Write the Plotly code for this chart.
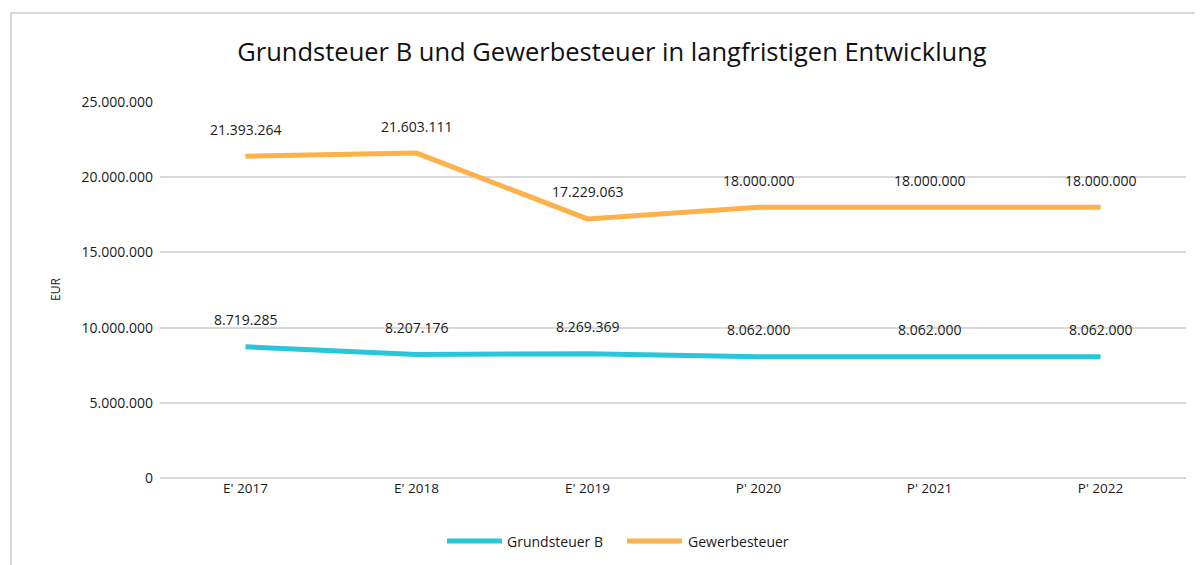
import plotly.graph_objects as go

categories = ["E' 2017", "E' 2018", "E' 2019", "P' 2020", "P' 2021", "P' 2022"]
grundsteuer_b = [8719285, 8207176, 8269369, 8062000, 8062000, 8062000]
gewerbesteuer = [21393264, 21603111, 17229063, 18000000, 18000000, 18000000]
y_ticks = [0, 5000000, 10000000, 15000000, 20000000, 25000000]
series_names = ["Grundsteuer B", "Gewerbesteuer"]

def fmt(v):
    return f"{v:,}".replace(",", ".")

FONT = "Open Sans, Liberation Sans, sans-serif"
cyan = "#29C5DB"
orange = "#FDB14A"
txt = "#1a1a1a"
colors = [cyan, orange]

fig = go.Figure()
for name, vals, col in zip(series_names, (grundsteuer_b, gewerbesteuer), colors):
    fig.add_trace(go.Scatter(x=categories, y=vals, mode="lines", name=name,
                             line=dict(color=col, width=5), showlegend=False))

OFF = 8  # page body margin
W, H = 1203 - OFF, 565 - OFF
# page-pixel targets
L, R, T, B = 160, 1186, 102, 478
ml, mr, mt, mb = L - OFF, (W + OFF) - R, T - OFF, (H + OFF) - B
pw, ph = W - ml - mr, H - mt - mb
def px_x(p): return (p - L) / pw
def px_y(p): return (B - p) / ph
def cx(p): return (p - OFF) / W
def cy(p): return 1 - (p - OFF) / H

annotations = []
for series in (grundsteuer_b, gewerbesteuer):
    for c, v in zip(categories, series):
        annotations.append(dict(x=c, y=v, text=fmt(v), showarrow=False, yshift=27,
                                font=dict(size=14, color=txt, family=FONT)))
annotations.append(dict(xref="paper", yref="paper", x=px_x(55), y=px_y(290), text="EUR",
                        textangle=-90, showarrow=False, xanchor="center", yanchor="middle",
                        font=dict(size=12, color=txt, family=FONT)))

shapes = [dict(type="rect", xref="paper", yref="paper",
               x0=px_x(11), x1=px_x(1230), y0=px_y(600), y1=px_y(13),
               line=dict(color="#D9D9D9", width=2), layer="below")]

# custom legend (Excel-style longer line samples)
leg_y = 541
leg_items = [(447, 502, 505), (627, 682, 686)]
for (lx0, lx1, tx), name, col in zip(leg_items, series_names, colors):
    shapes.append(dict(type="line", xref="paper", yref="paper",
                       x0=px_x(lx0), x1=px_x(lx1), y0=px_y(leg_y), y1=px_y(leg_y),
                       line=dict(color=col, width=5)))
    annotations.append(dict(xref="paper", yref="paper", x=px_x(tx), y=px_y(leg_y), text=name,
                            showarrow=False, xanchor="left", yanchor="middle",
                            font=dict(size=14, color=txt, family=FONT)))

fig.update_layout(
    width=W, height=H,
    margin=dict(l=ml, r=mr, t=mt, b=mb, autoexpand=False),
    paper_bgcolor="white", plot_bgcolor="white",
    showlegend=False,
    title=dict(text="Grundsteuer B und Gewerbesteuer in langfristigen Entwicklung",
               x=cx(612), xref="container", xanchor="center", y=cy(52), yref="container",
               yanchor="middle", font=dict(size=25.5, color="#111", family=FONT)),
    xaxis=dict(type="category", range=[-0.5, 5.5], showgrid=False, zeroline=False, showline=False,
               ticks="", automargin=False, tickfont=dict(size=13.5, color=txt, family=FONT)),
    yaxis=dict(range=[0, 25000000], tickvals=y_ticks, ticktext=[fmt(v) for v in y_ticks],
               showgrid=True, gridcolor="#D9D9D9", gridwidth=2, zeroline=True,
               zerolinecolor="#D9D9D9", zerolinewidth=2, automargin=False, ticklabelstandoff=6,
               tickfont=dict(size=14, color=txt, family=FONT)),
    annotations=annotations,
    shapes=shapes,
)

fig.write_html("out.html")
